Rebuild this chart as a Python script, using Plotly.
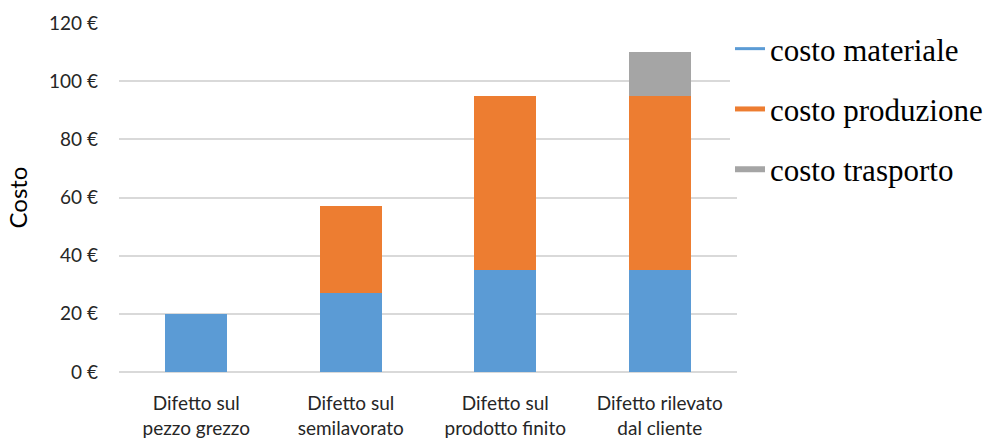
import plotly.graph_objects as go

categories = ["Difetto sul<br>pezzo grezzo", "Difetto sul<br>semilavorato",
              "Difetto sul<br>prodotto finito", "Difetto rilevato<br>dal cliente"]
costo_materiale = [20, 27, 35, 35]
costo_produzione = [0, 30, 60, 60]
costo_trasporto = [0, 0, 0, 15]
series_names = ["costo materiale", "costo produzione", "costo trasporto"]
colors = ["#5B9BD5", "#ED7D31", "#A5A5A5"]
legend_widths = [3, 5, 6]
y_ticks = [0, 20, 40, 60, 80, 100, 120]
y_tick_labels = [f"{v} €" for v in y_ticks]

fig = go.Figure()
for name, vals, col in zip(series_names, [costo_materiale, costo_produzione, costo_trasporto], colors):
    fig.add_trace(go.Bar(x=categories, y=vals, name=name, marker=dict(color=col, line=dict(width=0)),
                         showlegend=False))
for i, (name, col, w) in enumerate(zip(series_names, colors, legend_widths)):
    fig.add_trace(go.Scatter(x=[None], y=[None], mode="lines", name=name, legendgroup=f"g{i}",
                             line=dict(color=col, width=w)))

tick_font = dict(family="Lato", size=19, color="#262626")
fig.update_layout(
    width=990, height=442,
    margin=dict(l=119, r=253, t=23, b=70, autoexpand=False),
    barmode="stack", bargap=0.6,
    plot_bgcolor="white", paper_bgcolor="white",
    legend=dict(xref="container", yref="container", x=730 / 990, xanchor="left",
                y=1 - 22 / 442, yanchor="top",
                font=dict(family="Liberation Serif", size=31, color="black"),
                tracegroupgap=17, itemwidth=30, traceorder="grouped"),
    xaxis=dict(tickfont=tick_font, showgrid=False, showline=False, ticks="",
               ticklabelstandoff=18, automargin=False),
    yaxis=dict(range=[0, 120], tickvals=y_ticks, ticktext=y_tick_labels, tickfont=tick_font,
               showgrid=True, gridcolor="#D9D9D9", gridwidth=1.5,
               zeroline=True, zerolinecolor="#D9D9D9", zerolinewidth=1.5,
               showline=False, ticks="", ticklabelstandoff=20, automargin=False,
               title=dict(text="Costo", font=dict(family="Lato", size=24, color="black"), standoff=14)),
)
fig.write_html("out.html")
